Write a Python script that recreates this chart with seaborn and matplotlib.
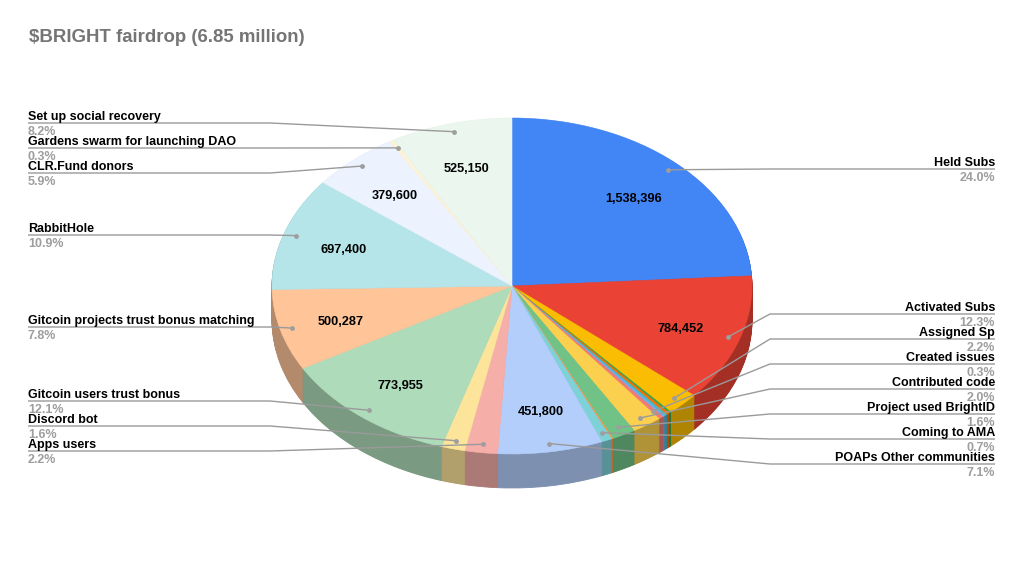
import matplotlib
matplotlib.use("Agg")
import matplotlib.pyplot as plt
import seaborn as sns
import numpy as np
from matplotlib.colors import to_rgb

# ---------------- data ----------------
categories = [
    "Held Subs", "Activated Subs", "Assigned Sp", "", "", "", "",
    "Created issues", "Contributed code", "Project used BrightID", "",
    "Coming to AMA", "POAPs Other communities", "Apps users", "Discord bot",
    "Gitcoin users trust bonus", "Gitcoin projects trust bonus matching",
    "RabbitHole", "CLR.Fund donors", "Gardens swarm for launching DAO",
    "Set up social recovery",
]
values = [
    1538396, 784452, 140800, 10000, 13000, 13000, 9000,
    19200, 128000, 102400, 6360,
    44800, 451800, 140800, 102400,
    773955, 500287,
    697400, 379600, 19200,
    525150,
]
colors = [
    "#4285F4", "#EA4335", "#FBBC04", "#34A853", "#FF6D01", "#46BDC6", "#7BAAF7",
    "#F07B72", "#FCD04F", "#71C287", "#FF994D",
    "#7ED1D7", "#B3CEFB", "#F6AEA9", "#FDE49B",
    "#AEDCBA", "#FFC599",
    "#B5E5E8", "#ECF3FE", "#FEF3D6",
    "#EAF6EE",
]
title = "\\$BRIGHT fairdrop (6.85 million)"

# label layout: category -> y of leader line in pixels
left_labels = {
    "Set up social recovery": 123,
    "Gardens swarm for launching DAO": 148,
    "CLR.Fund donors": 173,
    "RabbitHole": 235,
    "Gitcoin projects trust bonus matching": 327,
    "Gitcoin users trust bonus": 401,
    "Discord bot": 426,
    "Apps users": 451,
}
right_labels = {
    "Held Subs": 169,
    "Activated Subs": 314,
    "Assigned Sp": 339,
    "Created issues": 364,
    "Contributed code": 389,
    "Project used BrightID": 414,
    "Coming to AMA": 439,
    "POAPs Other communities": 464,
}

# ---------------- style ----------------
sns.set_theme(style="white")
plt.rcParams['font.family'] = ['Liberation Sans', 'DejaVu Sans']

W, H = 1024, 572
fig = plt.figure(figsize=(W / 100, H / 100), dpi=100)
ax = fig.add_axes([0, 0, 1, 1])

CX, CY, RX, RY = 512, 286, 240, 168


def px(x):
    return (x - CX) / RX


def py(y):
    return (CY - y) / RY


total = float(sum(values))
depth = 34 / RY
dark = [tuple(c * 0.7 for c in to_rgb(col)) for col in colors]

n_layers = 40
for k in range(n_layers):
    off = -depth + depth * k / n_layers
    wl, _ = ax.pie(values, colors=dark, startangle=90, counterclock=False,
                   center=(0, off), radius=1)
    for w in wl:
        w.set_edgecolor(w.get_facecolor())
        w.set_linewidth(0.6)

wedges, _ = ax.pie(values, colors=colors, startangle=90, counterclock=False,
                   center=(0, 0), radius=1)
for w in wedges:
    w.set_edgecolor(w.get_facecolor())
    w.set_linewidth(0.4)

# values inside slices
for w, v in zip(wedges, values):
    if v / total > 0.05:
        a = np.deg2rad((w.theta1 + w.theta2) / 2)
        ax.text(0.74 * np.cos(a), 0.74 * np.sin(a) - 0.02, f"{v:,}",
                ha="center", va="center", fontsize=9.2, fontweight="bold",
                color="black", zorder=5)

line_col = "#9a9a9a"
name_fs = 9
for w, name, v in zip(wedges, categories, values):
    if not name:
        continue
    a = np.deg2rad((w.theta1 + w.theta2) / 2)
    dx, dy = 0.95 * np.cos(a), 0.95 * np.sin(a)
    pct = f"{v / total * 100:.1f}%"
    if name in left_labels:
        ly = left_labels[name]
        x0, xe, ha = 28, 270, "left"
    elif name in right_labels:
        ly = right_labels[name]
        x0, xe, ha = 995, 770, "right"
    else:
        continue
    ax.plot([px(x0), px(xe), dx], [py(ly), py(ly), dy], color=line_col,
            lw=1, zorder=6, solid_capstyle="butt")
    ax.text(px(x0), py(ly - 3), name, ha=ha, va="baseline",
            fontsize=name_fs, fontweight="bold", color="black", zorder=7)
    ax.text(px(x0), py(ly + 11.5), pct, ha=ha, va="baseline",
            fontsize=name_fs, fontweight="bold", color="#9e9e9e", zorder=7)
    ax.plot([dx], [dy], marker="o", ms=3.5, color="#9e9e9e", mec="none",
            zorder=8)

ax.text(px(29), py(37), title, ha="left", va="center", fontsize=13.4,
        fontweight="bold", color="#757575")

ax.set_xlim(px(0), px(W))
ax.set_ylim(py(H), py(0))
ax.set_aspect("auto")
ax.axis("off")

fig.savefig("out.png", dpi=100, facecolor="white")
